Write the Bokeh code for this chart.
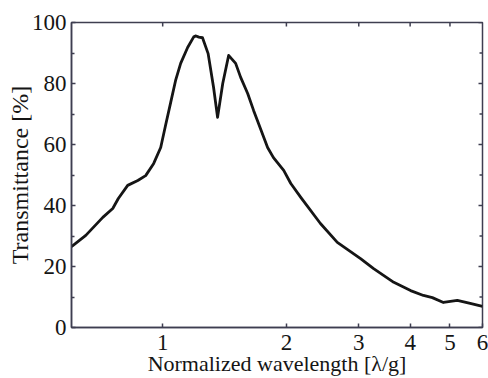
import math
from bokeh.plotting import figure
from bokeh.models import FixedTicker, Range1d
from bokeh.embed import file_html
from bokeh.resources import INLINE

wavelength = [0.600, 0.650, 0.715, 0.756, 0.780, 0.822, 0.870, 0.909, 0.951, 0.989,
              1.017, 1.046, 1.075, 1.106, 1.150, 1.190, 1.205, 1.225, 1.250, 1.290,
              1.330, 1.360, 1.400, 1.447, 1.505, 1.548, 1.610, 1.665, 1.700, 1.800,
              1.860, 1.970, 2.050, 2.170, 2.420, 2.660, 3.030, 3.260, 3.650, 4.010,
              4.310, 4.530, 4.820, 5.210, 5.600, 6.000]
transmittance = [26.5, 30.2, 36.1, 39.0, 42.3, 46.6, 48.2, 49.8, 53.8, 59.0,
                 66.5, 73.8, 81.0, 86.6, 91.8, 95.3, 95.6, 95.2, 95.0, 89.8,
                 78.7, 68.9, 80.0, 89.2, 86.6, 82.0, 76.7, 71.1, 67.9, 59.0,
                 55.7, 51.5, 47.2, 42.6, 34.1, 27.9, 22.6, 19.3, 14.8, 12.1,
                 10.5, 9.8, 8.2, 8.9, 7.9, 6.9]

x_ticks = [1, 2, 3, 4, 5, 6]
y_ticks = [0, 20, 40, 60, 80, 100]
y_minor = [10, 30, 50, 70, 90]

FONT = "Liberation Serif"
AX = "#3e3e50"

p = figure(width=488, height=378, x_axis_type="log",
           x_range=Range1d(0.6, 6), y_range=Range1d(0, 100),
           output_backend="svg", toolbar_location=None,
           min_border_left=71, min_border_right=6, min_border_top=22, min_border_bottom=51)
p.background_fill_color = "white"
p.border_fill_color = "white"
p.outline_line_color = AX
p.outline_line_width = 1.5
p.grid.visible = False

p.line(wavelength, transmittance, line_color="#151515", line_width=2.8, line_join="round")

# mirrored inward ticks on the top and right edges
p.ray(x=x_ticks[:-1], y=[100] * (len(x_ticks) - 1), length=4, length_units="screen",
      angle=-math.pi / 2, line_color=AX, line_width=1.5)
p.ray(x=[6] * len(y_ticks), y=y_ticks, length=4, length_units="screen",
      angle=math.pi, line_color=AX, line_width=1.5)
p.ray(x=[6] * len(y_minor), y=y_minor, length=3, length_units="screen",
      angle=math.pi, line_color=AX, line_width=1.5)

xt = FixedTicker(ticks=x_ticks, minor_ticks=[])
yt = FixedTicker(ticks=y_ticks, minor_ticks=y_minor)

for ax in [p.xaxis[0], p.yaxis[0]]:
    ax.axis_line_color = AX
    ax.axis_line_width = 1.5
    ax.major_tick_line_color = AX
    ax.minor_tick_line_color = AX
    ax.major_tick_line_width = 1.5
    ax.minor_tick_line_width = 1.5
    ax.major_tick_in = 4
    ax.major_tick_out = 0
    ax.minor_tick_in = 3
    ax.minor_tick_out = 0
    ax.major_label_text_font = FONT
    ax.major_label_text_font_size = "23px"
    ax.major_label_text_color = "#151515"
    ax.axis_label_text_font = FONT
    ax.axis_label_text_font_size = "22px"
    ax.axis_label_text_font_style = "normal"
    ax.axis_label_text_color = "#151515"

p.xaxis[0].ticker = xt
p.xaxis[0].axis_label = "Normalized wavelength [λ/g]"
p.xaxis[0].major_label_standoff = 7
p.xaxis[0].axis_label_standoff = -2
p.yaxis[0].ticker = yt
p.yaxis[0].axis_label = "Transmittance [%]"
p.yaxis[0].axis_label_text_font_size = "24px"
p.yaxis[0].major_label_standoff = 5
p.yaxis[0].axis_label_standoff = -4

open("out.html", "w").write(file_html(p, INLINE))
